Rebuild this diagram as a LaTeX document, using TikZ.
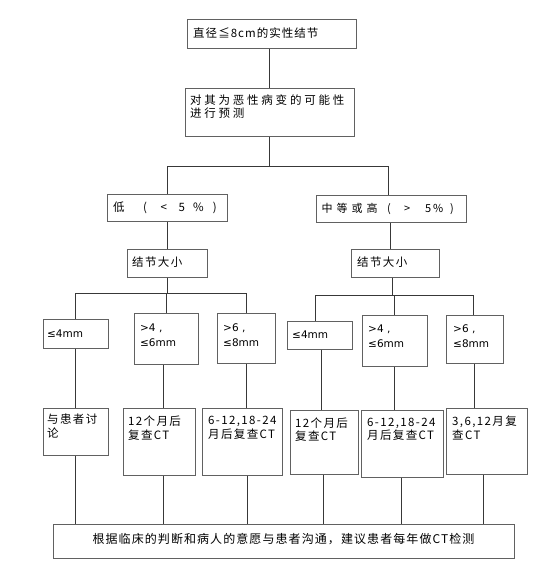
\documentclass[tikz,border=0pt]{standalone}
\usepackage{fontspec}
\setmainfont{Noto Sans CJK SC}
\newfontfamily\cjka[LetterSpace=9]{Noto Sans CJK SC}
\newfontfamily\cjkb[LetterSpace=24]{Noto Sans CJK SC}
\newfontfamily\cjkc[LetterSpace=12]{Noto Sans CJK SC}
\newfontfamily\latn{DejaVu Sans}
\newcommand{\cc}[2]{\makebox[#1pt][l]{#2}}
\begin{document}
\begin{tikzpicture}[x=1pt,y=-1pt,
  box/.style={draw=black!62,line width=1pt,fill=white,inner sep=0pt},
  lbl/.style={anchor=west,inner sep=0pt,align=left,font=\fontsize{11.5}{13.5}\selectfont\cjkc},
  mm/.style={anchor=west,inner sep=0pt,align=left,font=\fontsize{10.5}{15.5}\selectfont\latn},
  wire/.style={draw=black!78,line width=0.8pt}]
\useasboundingbox (0,0) rectangle (560,574);
\fill[white] (0,0) rectangle (560,574);

% boxes
\node[box,minimum width=169pt,minimum height=29pt] (b1) at (271.5,33.5) {};
\node[box,minimum width=169pt,minimum height=48pt] (b2) at (269.5,112) {};
\node[box,minimum width=120pt,minimum height=27pt] (b3L) at (167,207.5) {};
\node[box,minimum width=150pt,minimum height=27pt] (b3R) at (391,208.5) {};
\node[box,minimum width=80pt,minimum height=28pt] (b4L) at (167,263) {};
\node[box,minimum width=88pt,minimum height=28pt] (b4R) at (395,263) {};
\node[box,minimum width=65pt,minimum height=29pt] (L1) at (75.5,333.5) {};
\node[box,minimum width=64pt,minimum height=51pt] (L2) at (166,338.5) {};
\node[box,minimum width=58pt,minimum height=50pt] (L3) at (246,338) {};
\node[box,minimum width=65pt,minimum height=28pt] (R1) at (319.5,335) {};
\node[box,minimum width=65pt,minimum height=51pt] (R2) at (394.5,340.5) {};
\node[box,minimum width=57pt,minimum height=48pt] (R3) at (474.5,339) {};
\node[box,minimum width=65pt,minimum height=47pt] (M1) at (75.5,431.5) {};
\node[box,minimum width=72pt,minimum height=67pt] (M2) at (159,441.5) {};
\node[box,minimum width=80pt,minimum height=67pt] (M3) at (242,441.5) {};
\node[box,minimum width=68pt,minimum height=64pt] (N1) at (324,442) {};
\node[box,minimum width=82pt,minimum height=67pt] (N2) at (402,443.5) {};
\node[box,minimum width=81pt,minimum height=66pt] (N3) at (486.5,441) {};
\node[box,minimum width=461pt,minimum height=34pt] (B) at (283.5,541) {};

% texts
\node[lbl,font=\fontsize{11.5}{13.5}\selectfont\cjka] (t1) at (193,33.5) {直径≦8cm的实性结节};
\node[lbl,font=\fontsize{11.5}{13}\selectfont\cjkb] (t2) at (190,106.5) {对其为恶性病变的可能性\\进行预测};
\node[lbl,font=\fontsize{11.5}{13.5}\selectfont] (t3L) at (113,207.5) {\cc{30}{低}\cc{17.5}{(}\cc{18}{<}\cc{14.5}{5}\cc{19.7}{\%})};
\node[lbl,font=\fontsize{11}{13.5}\selectfont] (t3R) at (321.5,208.5) {\cc{15}{中}\cc{15}{等}\cc{15}{或}\cc{20.5}{高}\cc{17}{(}\cc{21}{>}\cc{8}{5}\cc{17}{\%})};
\node[lbl] (t4L) at (132,262) {结节大小};
\node[lbl] (t4R) at (357,262) {结节大小};
\node[mm] (tL1) at (47,333.5) {≤4mm};
\node[mm] (tL2) at (140,335) {>4 ,\\≤6mm};
\node[mm] (tL3) at (223,335) {>6 ,\\≤8mm};
\node[mm] (tR1) at (292,334.5) {≤4mm};
\node[mm] (tR2) at (368,336) {>4 ,\\≤6mm};
\node[mm] (tR3) at (453,336) {>6 ,\\≤8mm};
\node[lbl] (tM1) at (47,426) {与患者讨\\论};
\node[lbl] (tM2) at (128,428) {12个月后\\复查CT};
\node[lbl] (tM3) at (208,428) {6-12,18-24\\月后复查CT};
\node[lbl] (tN1) at (295,429.5) {12个月后\\复查CT};
\node[lbl] (tN2) at (367,429.5) {6-12,18-24\\月后复查CT};
\node[lbl] (tN3) at (452,428) {3,6,12月复\\查CT};
\node[inner sep=0pt,font=\fontsize{12}{14}\selectfont\cjka] (tB) at (283.5,539) {根据临床的判断和病人的意愿与患者沟通，建议患者每年做CT检测};

% connectors
\draw[wire] (b2.north |- b1.south) -- (b2.north);
\coordinate (j1) at (269.5,166);
\draw[wire] (b2.south) -- (j1);
\draw[wire] (j1) -| (b3L.north);
\draw[wire] (j1) -| ([xshift=-3pt]b3R.north);
\draw[wire] (b3L.south) -- (b4L.north);
\draw[wire] ([xshift=-1pt]b3R.south) -- ([xshift=-1pt]b3R.south |- b4R.north);
\coordinate (j2) at (167,293);
\draw[wire] (b4L.south) -- (j2);
\draw[wire] (j2) -| (L1.north);
\draw[wire] (j2) -| (L2.north);
\draw[wire] (j2) -| (L3.north);
\coordinate (j3) at (392,295);
\draw[wire] ([xshift=-3pt]b4R.south) -- (j3);
\draw[wire] (j3) -| ([xshift=-4pt]R1.north);
\draw[wire] (j3) -| (R2.north);
\draw[wire] (j3) -| ([xshift=-1.5pt]R3.north);
\draw[wire] (L1.south) -- (L1.south |- M1.north);
\draw[wire] ([xshift=-3pt]L2.south) -- ([xshift=-3pt]L2.south |- M2.north);
\draw[wire] (L3.south) -- (L3.south |- M3.north);
\draw[wire] ([xshift=1.5pt]R1.south) -- ([xshift=1.5pt]R1.south |- N1.north);
\draw[wire] (R2.south) -- (R2.south |- N2.north);
\draw[wire] (R3.south) -- (R3.south |- N3.north);
\draw[wire] (M1.south) -- (M1.south |- B.north);
\draw[wire] ([xshift=4pt]M2.south) -- ([xshift=4pt]M2.south |- B.north);
\draw[wire] ([xshift=5pt]M3.south) -- ([xshift=5pt]M3.south |- B.north);
\draw[wire] ([xshift=-1pt]N1.south) -- ([xshift=-1pt]N1.south |- B.north);
\draw[wire] ([xshift=-1pt]N2.south) -- ([xshift=-1pt]N2.south |- B.north);
\draw[wire] ([xshift=-3.5pt]N3.south) -- ([xshift=-3.5pt]N3.south |- B.north);
\end{tikzpicture}
\end{document}
